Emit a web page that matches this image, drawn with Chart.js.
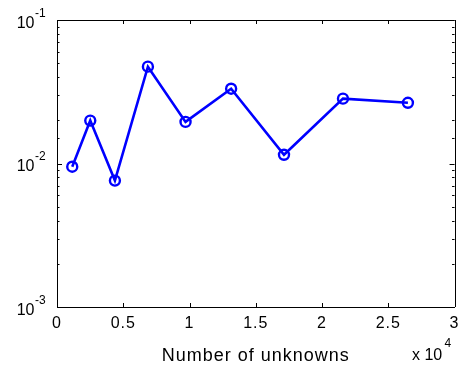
<!DOCTYPE html>
<html>
<head>
<meta charset="utf-8">
<script src="https://cdn.jsdelivr.net/npm/chart.js@4/dist/chart.umd.min.js"></script>
<style>
html, body { margin: 0; padding: 0; background: #fff; }
#wrap { width: 466px; height: 371px; }
</style>
</head>
<body>
<div id="wrap"><canvas id="errChart"></canvas></div>
<script>
// data (x in units of 10^4 unknowns)
const unknowns = [0.115, 0.251, 0.437, 0.686, 0.970, 1.314, 1.713, 2.158, 2.648];
const errors = [0.0095, 0.0199, 0.0076, 0.0473, 0.0195, 0.0332, 0.0115, 0.0283, 0.0265];
const xTicks = [0, 0.5, 1, 1.5, 2, 2.5, 3];
const yMajor = [1e-3, 1e-2, 1e-1];
const yExponents = ['-3', '-2', '-1'];
const xLabel = 'Number of unknowns';

const FONT = '"Liberation Sans", Arial, Helvetica, sans-serif';

// matlab style box, inward ticks and 10^n labels
const matlabAxes = {
    id: 'matlabAxes',
    beforeDraw(chart) {
        chart.ctx.letterSpacing = '1px';
    },
    afterDraw(chart) {
        const ctx = chart.ctx;
        const a = chart.chartArea;
        const xs = chart.scales.x;
        const ys = chart.scales.y;
        ctx.save();
        ctx.letterSpacing = '0px';
        ctx.strokeStyle = '#000';
        ctx.lineWidth = 1;

        // top + right edges
        ctx.beginPath();
        ctx.moveTo(a.left, Math.round(a.top) + 0.5);
        ctx.lineTo(a.right, Math.round(a.top) + 0.5);
        ctx.moveTo(Math.round(a.right) + 0.5, a.top);
        ctx.lineTo(Math.round(a.right) + 0.5, a.bottom);
        ctx.stroke();

        // x ticks, pointing in
        ctx.beginPath();
        xTicks.forEach(v => {
            const px = Math.round(xs.getPixelForValue(v)) + 0.5;
            ctx.moveTo(px, a.bottom);
            ctx.lineTo(px, a.bottom - 4);
            ctx.moveTo(px, a.top);
            ctx.lineTo(px, a.top + 4);
        });
        // y ticks (log, major + minor)
        ys.ticks.forEach(t => {
            const py = Math.round(ys.getPixelForValue(t.value)) + 0.5;
            const lg = Math.log10(t.value);
            const len = Math.abs(lg - Math.round(lg)) < 1e-6 ? 5 : 2.5;
            ctx.moveTo(a.left, py);
            ctx.lineTo(a.left + len, py);
            ctx.moveTo(a.right, py);
            ctx.lineTo(a.right - len, py);
        });
        ctx.stroke();

        // y labels 10^n
        ctx.fillStyle = '#000';
        ctx.textBaseline = 'alphabetic';
        yMajor.forEach((v, i) => {
            const py = ys.getPixelForValue(v);
            ctx.font = '16px ' + FONT;
            ctx.textAlign = 'right';
            ctx.fillText('10', 34.5, py + 7.5);
            ctx.font = '12px ' + FONT;
            ctx.textAlign = 'left';
            ctx.fillText(yExponents[i], 35, py - 3.5);
        });

        // x 10^4 multiplier
        ctx.font = '16px ' + FONT;
        ctx.textAlign = 'left';
        ctx.fillText('x 10', 412, 360);
        ctx.font = '12px ' + FONT;
        ctx.fillText('4', 444.5, 347);
        ctx.restore();
    }
};

new Chart(document.getElementById('errChart'), {
    type: 'line',
    data: {
        datasets: [{
            data: unknowns.map((x, i) => ({ x: x, y: errors[i] })),
            borderColor: '#0000ff',
            borderWidth: 2.6,
            pointRadius: 5,
            pointBorderWidth: 2.4,
            pointBorderColor: '#0000ff',
            pointBackgroundColor: 'rgba(0,0,0,0)',
            tension: 0,
            clip: false
        }]
    },
    options: {
        responsive: true,
        maintainAspectRatio: false,
        animation: false,
        layout: { padding: { top: 20, right: 11, left: 0, bottom: 0 } },
        scales: {
            x: {
                type: 'linear',
                min: 0,
                max: 3,
                afterFit: s => { s.height = 64; },
                afterBuildTicks: s => { s.ticks = xTicks.map(v => ({ value: v })); },
                grid: { display: false, drawTicks: false },
                border: { display: true, color: '#000', width: 1 },
                ticks: {
                    color: '#000',
                    padding: 7,
                    maxRotation: 0,
                    font: { family: FONT, size: 16 },
                    callback: v => String(v)
                },
                title: {
                    display: true,
                    text: xLabel,
                    color: '#000',
                    font: { family: FONT, size: 18 },
                    padding: { top: 0, bottom: 4 }
                }
            },
            y: {
                type: 'logarithmic',
                min: 1e-3,
                max: 1e-1,
                afterFit: s => { s.width = 57; },
                grid: { display: false, drawTicks: false },
                border: { display: true, color: '#000', width: 1 },
                ticks: { display: false }
            }
        },
        plugins: {
            legend: { display: false },
            tooltip: { enabled: false }
        }
    },
    plugins: [matlabAxes]
});
</script>
</body>
</html>
